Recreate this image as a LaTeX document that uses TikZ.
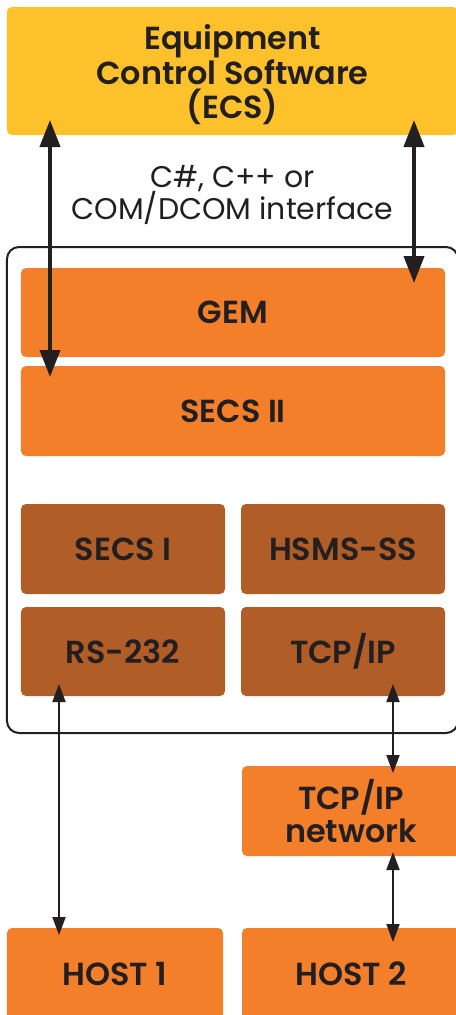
\documentclass[tikz,border=0pt]{standalone}
\usepackage{fontspec}
\setmainfont{Poppins}[BoldFont={Poppins SemiBold}]
\usetikzlibrary{arrows.meta}
\definecolor{ecsyellow}{HTML}{FCC12B}
\definecolor{orng}{HTML}{F47F2B}
\definecolor{brwn}{HTML}{B15D28}
\definecolor{ink}{HTML}{231F20}
\begin{document}
\begin{tikzpicture}[x=1bp,y=-1bp,
  lbl/.style={font=\fontsize{32}{34}\selectfont\bfseries, text=ink, align=center, inner sep=0},
  ecslbl/.style={font=\fontsize{32}{34.5}\selectfont\bfseries, text=ink, align=center, inner sep=0},
  box/.style={lbl, rounded corners=5bp, minimum height=89bp},
  obox/.style={box, fill=orng},
  bbox/.style={box, fill=brwn},
  iftext/.style={font=\fontsize{30}{33}\selectfont, text=ink, align=center, inner sep=0},
  frame/.style={draw=ink, line width=2bp, rounded corners=12bp},
  bigarrow/.style={draw=ink, line width=4bp, {Triangle[width=20bp,length=27bp]}-{Triangle[width=20bp,length=27bp]}},
  smallarrow/.style={draw=ink, line width=2bp, {Triangle[width=13bp,length=18bp]}-{Triangle[width=13bp,length=18bp]}}
]
\clip (0,0) rectangle (456,1015);
% ECS
\node[box, fill=ecsyellow, minimum width=451bp, minimum height=128bp] (ecs) at (232.5,71) {};
\node[ecslbl] (ecstext) at (232.5,75) {Equipment\\Control Software\\(ECS)};
% interface text
\node[iftext] (iface) at (232.5,195) {C\#, C++ or\\COM/DCOM interface};
% outer frame
\node[frame, minimum width=451bp, minimum height=486bp, inner sep=0] (outer) at (232.5,490) {};
% stack
\node[obox, minimum width=424bp] (gem) at (233,312.5) {GEM};
\node[obox, minimum width=424bp, minimum height=90bp] (secs2) at (233,411) {SECS II};
\node[bbox, minimum width=204bp, minimum height=90bp] (secs1) at (123,549) {SECS I};
\node[bbox, minimum width=204bp, minimum height=90bp] (hsms) at (343,549) {HSMS-SS};
\node[bbox, minimum width=204bp] (rs) at (123,651.5) {RS-232};
\node[bbox, minimum width=204bp] (tcp) at (343,651.5) {TCP/IP};
% network and hosts
\node[obox, minimum width=218bp, minimum height=90bp] (net) at (351,811) {TCP/IP\\network};
\node[obox, minimum width=216bp, minimum height=92bp] (host1) at (115,974) {HOST 1};
\node[obox, minimum width=218bp, minimum height=92bp] (host2) at (351,974) {HOST 2};
% arrow end points
\coordinate (eL) at (50,120);
\coordinate (sL) at (50,377);
\coordinate (eR) at (414,120);
\coordinate (gR) at (414,283);
\coordinate (rsA) at (59,684);
\coordinate (h1A) at (59,935);
\coordinate (tcpA) at (393,684);
\coordinate (netT) at (393,773);
\coordinate (netB) at (393,852);
\coordinate (h2A) at (393,942);
\draw[bigarrow] (eL) -- (sL);
\draw[bigarrow] (eR) -- (gR);
\draw[smallarrow] (rsA) -- (h1A);
\draw[smallarrow] (tcpA) -- (netT);
\draw[smallarrow] (netB) -- (h2A);
\end{tikzpicture}
\end{document}
